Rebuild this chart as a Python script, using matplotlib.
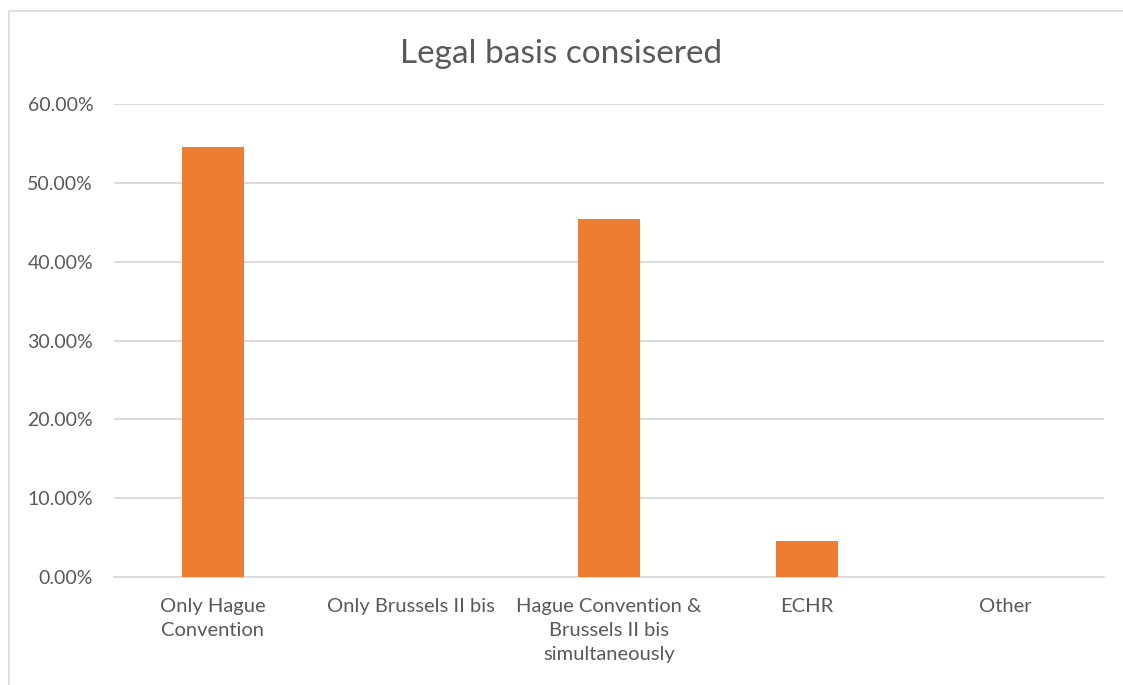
import matplotlib.pyplot as plt
from matplotlib.patches import Rectangle
from matplotlib.ticker import PercentFormatter

# data
categories = ['Only Hague\nConvention', 'Only Brussels II bis',
              'Hague Convention &\nBrussels II bis\nsimultaneously', 'ECHR', 'Other']
shares = [0.5455, 0.0, 0.4545, 0.0455, 0.0]
yticks = [0.0, 0.1, 0.2, 0.3, 0.4, 0.5, 0.6]

txt = '#595959'
grid = '#D9D9D9'
plt.rcParams['font.family'] = ['Lato', 'DejaVu Sans']

fig = plt.figure(figsize=(11.23, 6.85), dpi=100)
ax = fig.add_axes([114/1123, 1-577/685, (1104-114)/1123, (577-104)/685])

# chart area outline (right/bottom fall off the picture)
fig.patches.append(Rectangle((9/1123, -0.2), 1.3, 1.2 - 11/685 , transform=fig.transFigure,
                             fill=False, edgecolor=grid, linewidth=1.2))

x = range(len(categories))
ax.bar(x, shares, width=0.315, color='#ED7D31', zorder=3)

ax.set_ylim(0, 0.6)
ax.set_xlim(-0.5, len(categories) - 0.5)
ax.set_yticks(yticks)
ax.yaxis.set_major_formatter(PercentFormatter(1.0, decimals=2))
ax.grid(axis='y', color=grid, linewidth=1.3, zorder=0)
ax.set_xticks(list(x))
ax.set_xticklabels(categories, linespacing=1.5)
ax.tick_params(axis='both', length=0, colors=txt)
ax.tick_params(axis='x', pad=15, labelsize=14.5)
ax.tick_params(axis='y', pad=15, labelsize=14)
for s in ['left', 'right', 'top']:
    ax.spines[s].set_visible(False)
ax.spines['bottom'].set_color(grid)
ax.spines['bottom'].set_linewidth(1.3)

fig.text(0.5, 1 - 54/685, 'Legal basis consisered', ha='center', va='center',
         fontsize=24, color=txt)

fig.savefig('out.png', dpi=100)
